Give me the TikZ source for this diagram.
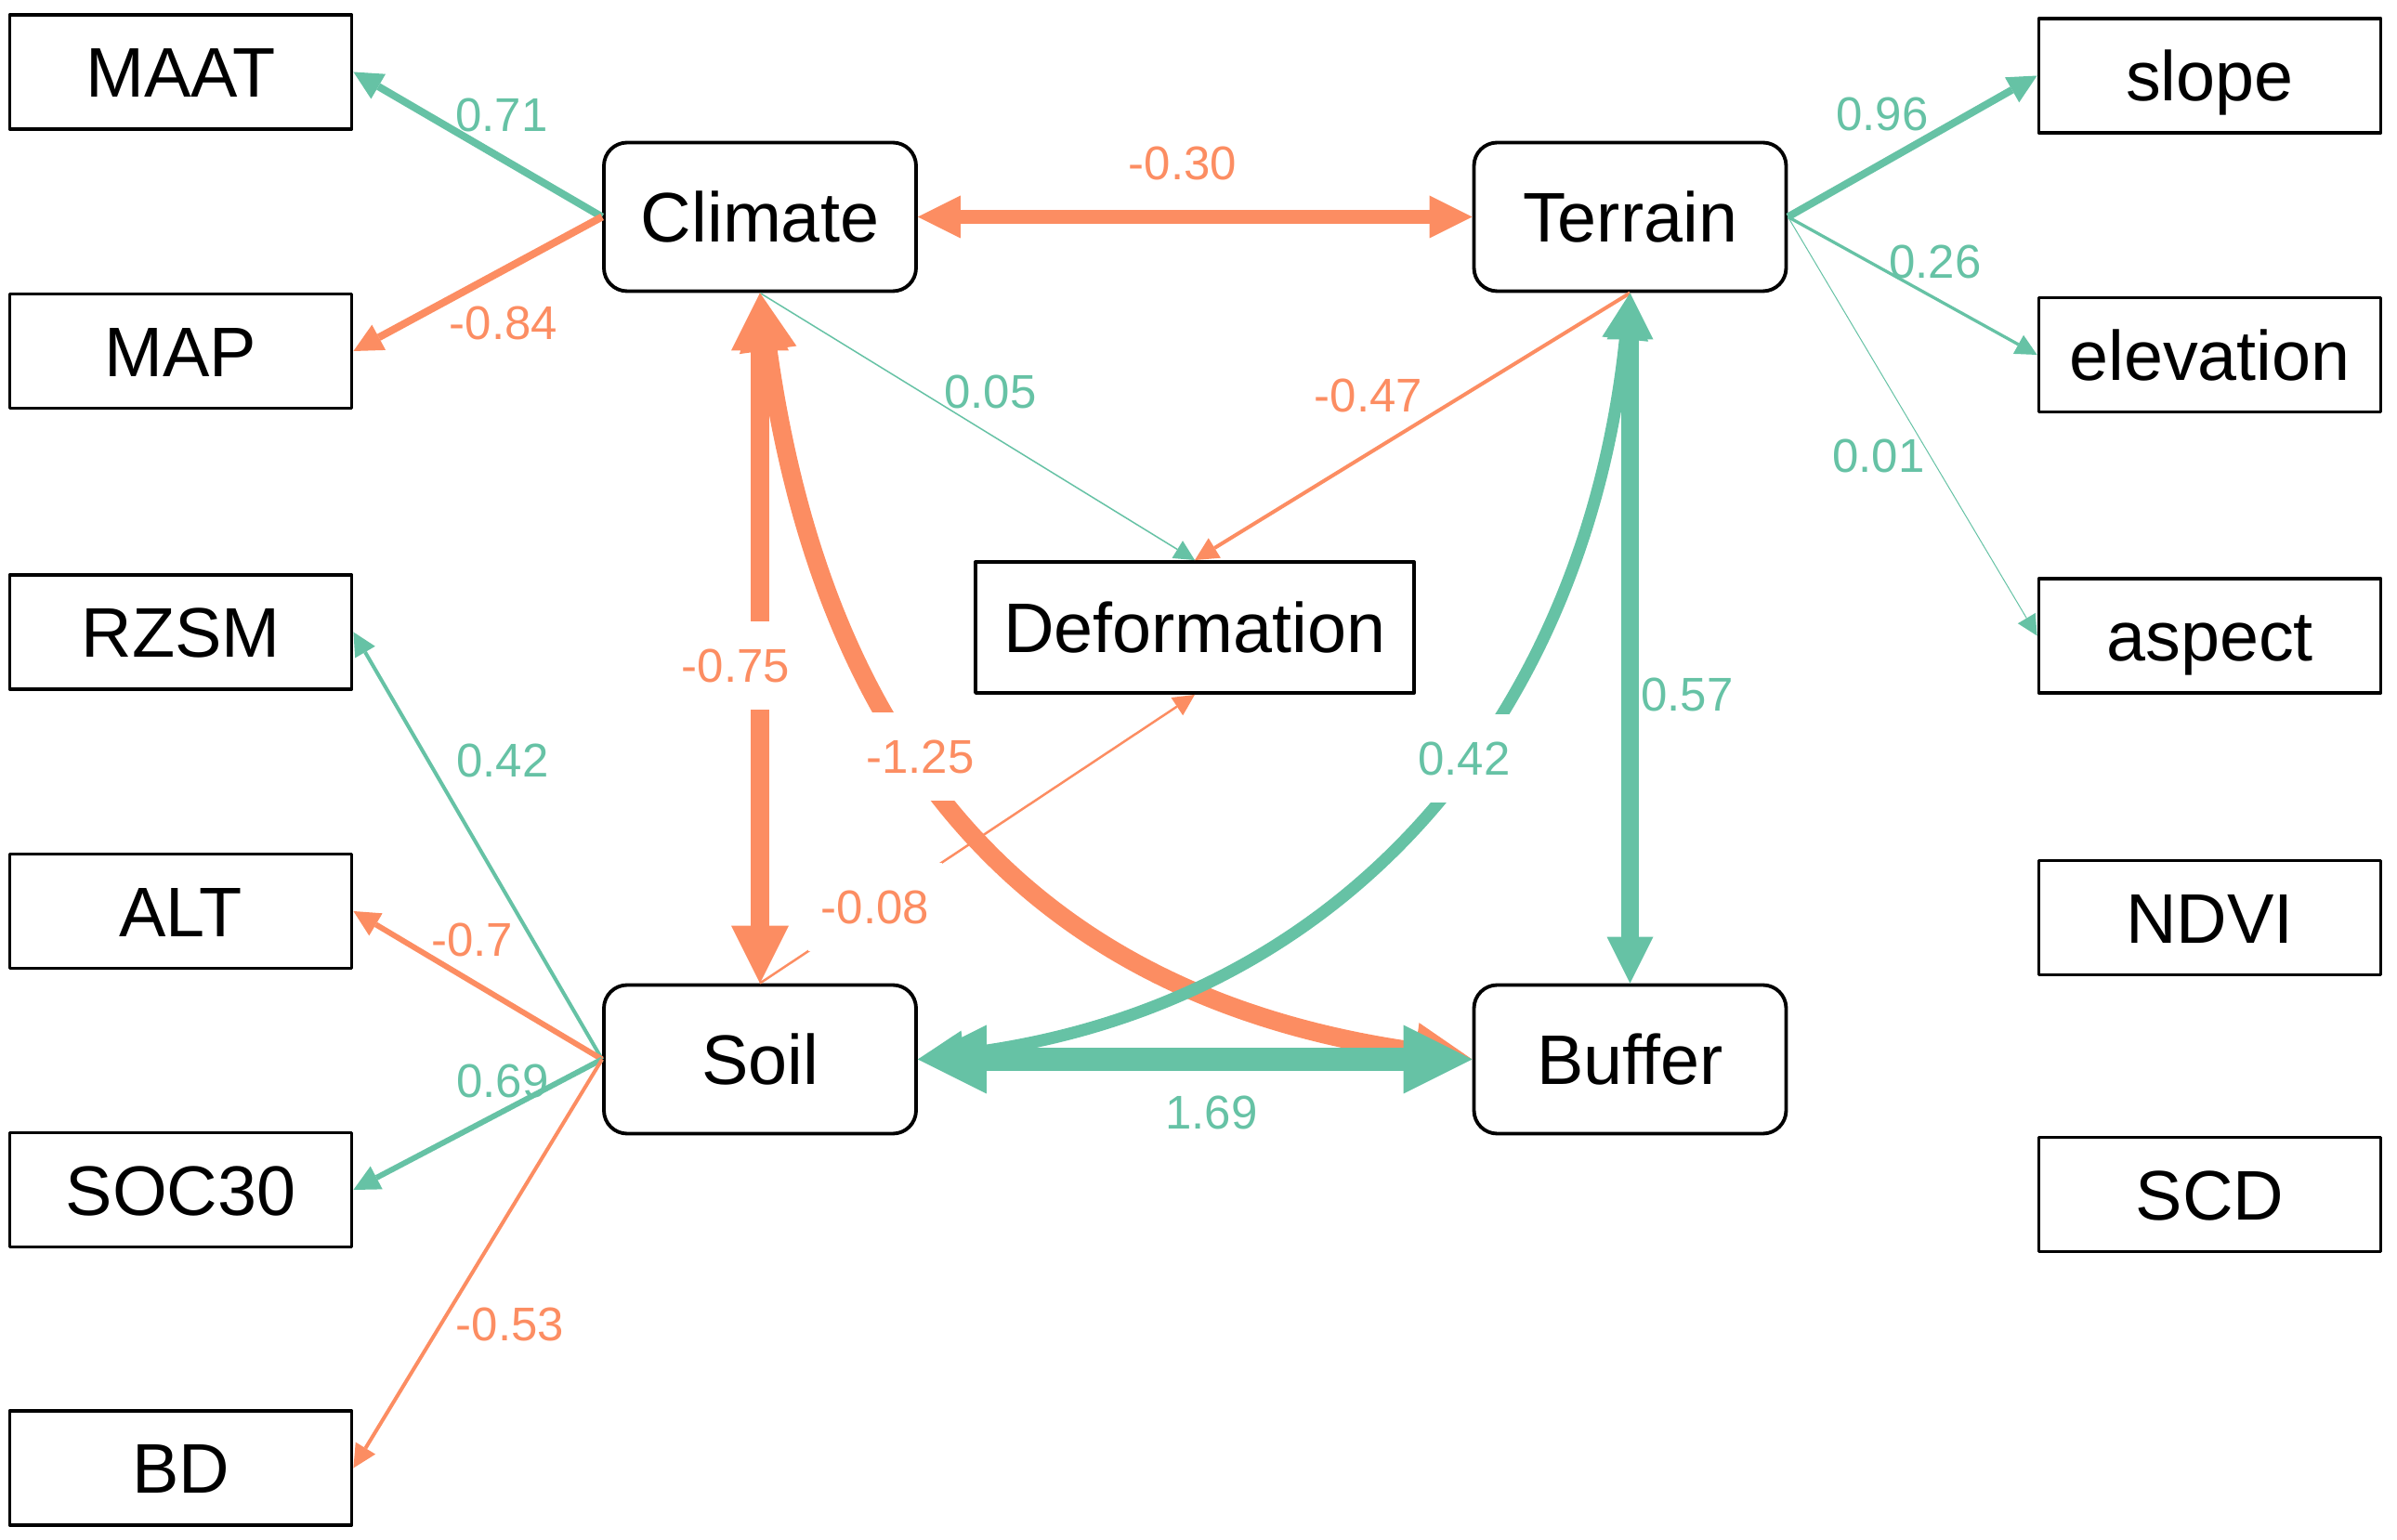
\documentclass[tikz,border=0pt]{standalone}
\usepackage{fontspec}
\setmainfont{Liberation Sans}
\usetikzlibrary{arrows.meta}
\definecolor{duong}{HTML}{66C2A5}
\definecolor{am}{HTML}{FC8D62}
\begin{document}
\begin{tikzpicture}[line join=round,
	bien/.style={draw,line width=1.1pt,minimum width=3.68cm,minimum height=1.23cm,inner sep=0pt,font=\fontsize{21.5}{25}\selectfont,text height=15.4pt,text depth=0pt},
	an/.style={bien,rounded corners=0.25cm,minimum width=3.36cm,minimum height=1.6cm},
	hs/.style={font=\fontsize{14.5}{17}\selectfont,inner sep=0pt,text height=10.4pt,text depth=0pt},
	hsn/.style={hs,fill=white,inner xsep=0.14cm,inner ysep=0.29cm},
	mot/.style={-{Triangle[length=#1,width=#1,line width=0pt]}},
	hai/.style={{Triangle[length=#1,width=#1,line width=0pt]}-{Triangle[length=#1,width=#1,line width=0pt]}}]
	\def\xt{1.945}
	\def\xp{23.785}
	\useasboundingbox (0,0) rectangle (25.8,-16.58);
	\node[an] (Climate) at (8.18,-2.335) {Climate};
	\node[an] (Terrain) at (17.545,-2.335) {Terrain};
	\node[an] (Soil) at (8.18,-11.405) {Soil};
	\node[an] (Buffer) at (17.545,-11.405) {Buffer};
	\node[bien,minimum width=4.72cm,minimum height=1.41cm] (Deformation) at (12.86,-6.755) {Deformation};
	\foreach \ten/\y in {MAAT/0.775,MAP/3.78,RZSM/6.805,ALT/9.81,SOC30/12.81,BD/15.805}
		\node[bien] (\ten) at (\xt,-\y) {\ten}; % Vẽ các biến bên trái
	\foreach \ten/\y in {slope/0.815,elevation/3.82,aspect/6.845,NDVI/9.88,SCD/12.86}
		\node[bien] (\ten) at (\xp,-\y) {\ten}; % Vẽ các biến bên phải
	\draw[duong,line width=0.08cm,mot=0.31cm] (Climate.west) -- (MAAT.east) node[hs] at (5.40,-1.23) {0.71};
	\draw[am,line width=0.08cm,mot=0.31cm] (Climate.west) -- (MAP.east) node[hs] at (5.42,-3.47) {-0.84};
	\draw[am,line width=0.15cm,hai=0.46cm] (Climate.east) -- (Terrain.west) node[hs] at (12.73,-1.75) {-0.30};
	\draw[duong,line width=0.015cm,mot=0.22cm] (Climate.south) -- (Deformation.north) node[hs] at (10.66,-4.21) {0.05};
	\draw[am,line width=0.04cm,mot=0.25cm] (Terrain.south) -- (Deformation.north) node[hs] at (14.73,-4.25) {-0.47};
	\draw[duong,line width=0.08cm,mot=0.31cm] (Terrain.east) -- (slope.west) node[hs] at (20.26,-1.22) {0.96};
	\draw[duong,line width=0.033cm,mot=0.23cm] (Terrain.east) -- (elevation.west) node[hs] at (20.83,-2.81) {0.26};
	\draw[duong,line width=0.01cm,mot=0.22cm] (Terrain.east) -- (aspect.west) node[hs] at (20.22,-4.90) {0.01};
	\draw[duong,line width=0.04cm,mot=0.25cm] (Soil.west) -- (RZSM.east) node[hs] at (5.41,-8.18) {0.42};
	\draw[am,line width=0.06cm,mot=0.28cm] (Soil.west) -- (ALT.east) node[hs] at (5.08,-10.11) {-0.7};
	\draw[duong,line width=0.06cm,mot=0.28cm] (Soil.west) -- (SOC30.east) node[hs] at (5.41,-11.63) {0.69};
	\draw[am,line width=0.04cm,mot=0.25cm] (Soil.west) -- (BD.east) node[hs] at (5.49,-14.25) {-0.53};
	\draw[am,line width=0.025cm,mot=0.23cm] (Soil.north) -- node[hsn,pos=0.265] {-0.08} (Deformation.south);
	\draw[am,line width=0.20cm,hai=0.62cm] (Climate.south) -- node[hsn,pos=0.54,xshift=-0.26cm] {-0.75} (Soil.north);
	\draw[am,line width=0.20cm,hai=0.62cm] (Climate.south) to[out=-82,in=172,out distance=5cm,in distance=4.8cm] node[hsn,pos=0.415] {-1.25} (Buffer.west); % Cung cong
	\draw[duong,line width=0.19cm,hai=0.50cm] (Terrain.south) -- (Buffer.north) node[hs] at (18.16,-7.47) {0.57};
	\draw[duong,line width=0.13cm,hai=0.50cm] (Terrain.south) to[out=-96,in=7,looseness=1.05] node[hsn,pos=0.43] {0.42} (Soil.east); % Cung cong
	\draw[duong,line width=0.25cm,hai=0.74cm] (Soil.east) -- (Buffer.west) node[hs] at (13.04,-11.97) {1.69};
\end{tikzpicture}
\end{document}
